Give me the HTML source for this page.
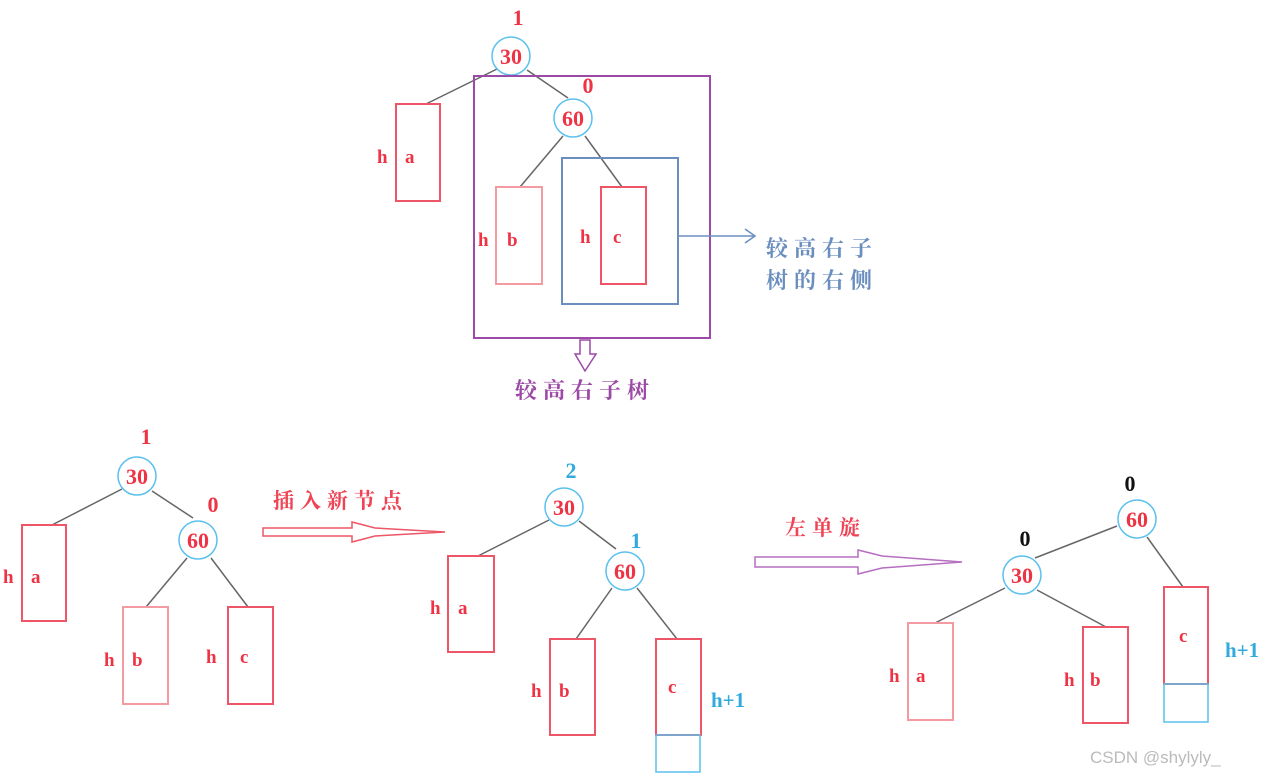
<!DOCTYPE html>
<html><head><meta charset="utf-8"><style>
html,body{margin:0;padding:0;background:#fff;width:1269px;height:776px;overflow:hidden}
svg text{font-family:"Liberation Serif","Noto Serif CJK SC",serif;font-weight:bold}
.r{fill:#ee3344}
.cj{font-family:"Liberation Sans","Noto Sans CJK SC",sans-serif;font-weight:bold;letter-spacing:6px}
</style></head><body>
<svg width="1269" height="776" xmlns="http://www.w3.org/2000/svg">
<g stroke="#666" stroke-width="1.5" fill="none">
<line x1="497" y1="69" x2="426" y2="104"/><line x1="527" y1="70" x2="568" y2="98"/>
<line x1="563" y1="136" x2="520" y2="187"/><line x1="585" y1="136" x2="622" y2="187"/>
<line x1="122" y1="489" x2="52" y2="525"/><line x1="152" y1="491" x2="193" y2="518"/>
<line x1="187" y1="558" x2="146" y2="607"/><line x1="211" y1="558" x2="248" y2="607"/>
<line x1="549" y1="520" x2="478" y2="556"/><line x1="579" y1="521" x2="616" y2="549"/>
<line x1="612" y1="588" x2="576" y2="639"/><line x1="637" y1="588" x2="677" y2="639"/>
<line x1="1117" y1="526" x2="1035" y2="558"/><line x1="1147" y1="537" x2="1183" y2="587"/>
<line x1="1005" y1="588" x2="935" y2="623"/><line x1="1037" y1="590" x2="1106" y2="627"/>
</g>
<g fill="#fff" stroke="#5bc0ee" stroke-width="1.5">
<circle cx="511" cy="56" r="19"/><circle cx="573" cy="118" r="19"/>
<circle cx="137" cy="476" r="19"/><circle cx="198" cy="540" r="19"/>
<circle cx="564" cy="507" r="19"/><circle cx="625" cy="571" r="19"/>
<circle cx="1137" cy="519" r="19"/><circle cx="1022" cy="575" r="19"/>
</g>
<g fill="none" stroke="#ee5566" stroke-width="2">
<rect x="396" y="104" width="44" height="97"/><rect x="496" y="187" width="46" height="97" stroke="#f49aa0"/><rect x="601" y="187" width="45" height="97"/>
<rect x="22" y="525" width="44" height="96"/><rect x="123" y="607" width="45" height="97" stroke="#f49aa0"/><rect x="228" y="607" width="45" height="97"/>
<rect x="448" y="556" width="46" height="96"/><rect x="550" y="639" width="45" height="96"/><rect x="656" y="639" width="45" height="96"/>
<rect x="908" y="623" width="45" height="97" stroke="#f49aa0"/><rect x="1083" y="627" width="45" height="96"/><rect x="1164" y="587" width="44" height="97"/>
</g>
<g fill="none" stroke="#5bc0ee" stroke-width="1.5">
<rect x="656" y="735" width="44" height="37"/><rect x="1164" y="684" width="44" height="38"/>
</g>
<rect x="474" y="76" width="236" height="262" fill="none" stroke="#9b4aa6" stroke-width="2"/>
<rect x="562" y="158" width="116" height="146" fill="none" stroke="#6a8fbf" stroke-width="2"/>
<g stroke="#6a8fbf" stroke-width="1.5" fill="none"><line x1="678" y1="236" x2="755" y2="236"/><polyline points="745,229 755,236 745,243"/></g>
<polygon points="580,340 590,340 590,354 596,354 585,371 575,354 580,354" fill="#fff" stroke="#9b4aa6" stroke-width="1.5"/>
<polygon points="263,528 352,528 352,522 375,528 445,532 375,536 352,542 352,536 263,536" fill="#fff" stroke="#ee5566" stroke-width="1.5"/>
<polygon points="755,557 858,557 858,550 882,556 962,562 882,568 858,574 858,567 755,567" fill="#fff" stroke="#b56ec0" stroke-width="1.5"/>
<g class="r" font-size="22" text-anchor="middle">
<text x="511" y="64">30</text><text x="573" y="126">60</text><text x="137" y="484">30</text><text x="198" y="548">60</text>
<text x="564" y="515">30</text><text x="625" y="579">60</text><text x="1137" y="527">60</text><text x="1022" y="583">30</text>
<text x="518" y="25">1</text><text x="588" y="93">0</text><text x="146" y="444">1</text><text x="213" y="512">0</text>
</g>
<g font-size="22" text-anchor="middle" fill="#33aadd"><text x="571" y="478">2</text><text x="636" y="548">1</text></g>
<g font-size="22" text-anchor="middle" fill="#111"><text x="1130" y="491">0</text><text x="1025" y="546">0</text></g>
<g class="r" font-size="19">
<text x="377" y="163">h</text><text x="405" y="163">a</text>
<text x="478" y="246">h</text><text x="507" y="246">b</text>
<text x="580" y="243">h</text><text x="613" y="243">c</text>
<text x="3" y="583">h</text><text x="31" y="583">a</text>
<text x="104" y="666">h</text><text x="132" y="666">b</text>
<text x="206" y="663">h</text><text x="240" y="663">c</text>
<text x="430" y="614">h</text><text x="458" y="614">a</text>
<text x="531" y="697">h</text><text x="559" y="697">b</text>
<text x="668" y="693">c</text>
<text x="889" y="682">h</text><text x="916" y="682">a</text>
<text x="1064" y="686">h</text><text x="1090" y="686">b</text>
<text x="1179" y="642">c</text>
</g>
<g font-size="21" fill="#33aadd"><text x="711" y="707">h+1</text><text x="1225" y="657">h+1</text></g>
<g class="cj" font-size="22">
<text x="766" y="256" fill="#6a8fbf">较高右子</text>
<text x="766" y="288" fill="#6a8fbf">树的右侧</text>
<text x="515" y="398" fill="#9b4aa6">较高右子树</text>
<text x="273" y="508" fill="#ee4455" font-size="21">插入新节点</text>
<text x="785" y="535" fill="#ee4455" font-size="21">左单旋</text>
</g>
<text x="1090" y="763" font-size="17" fill="#bbb" style="font-family:'Liberation Sans',sans-serif;font-weight:normal">CSDN @shylyly_</text>
</svg>
</body></html>
